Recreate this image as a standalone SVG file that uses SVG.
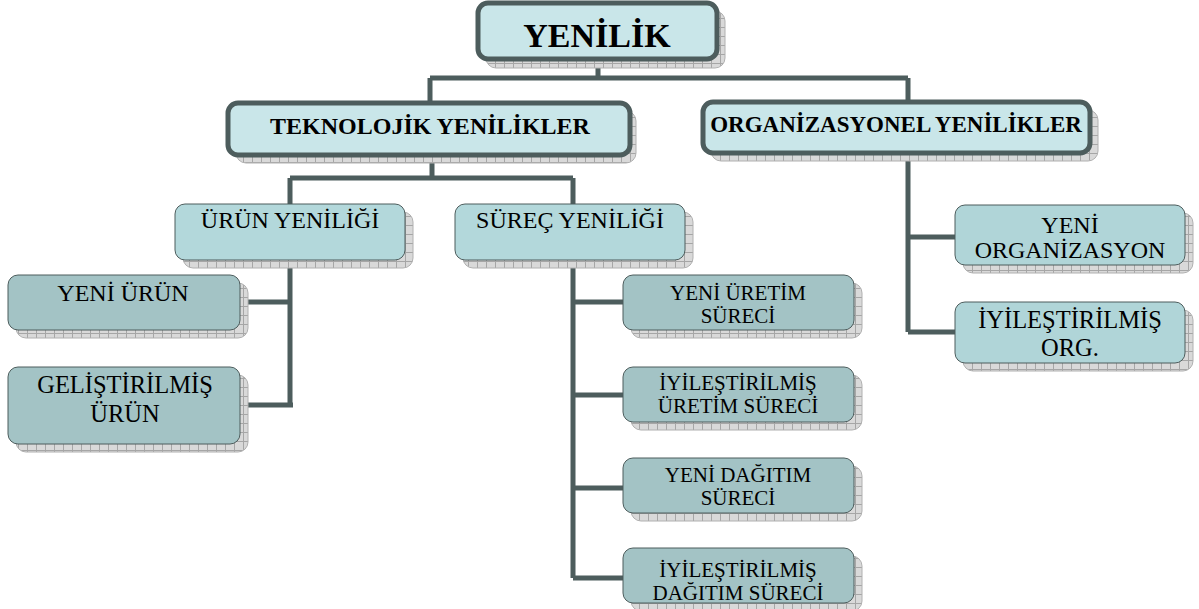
<svg xmlns="http://www.w3.org/2000/svg" width="1199" height="609" viewBox="0 0 1199 609">
<defs>
<pattern id="grid" width="9" height="9" patternUnits="userSpaceOnUse">
<rect width="9" height="9" fill="#d9d9d9"/>
<path d="M0,0.5 H9 M0.5,0 V9" stroke="#a6a6a6" stroke-width="1"/>
</pattern>
<style>
.sh{fill:url(#grid);stroke:#b0b0b0;stroke-width:1}
.big{fill:#c9e6e9;stroke:#4d5d5d;stroke-width:5}
.mid{fill:#b3d8db;stroke:#4d5d5d;stroke-width:1}
.leaf{fill:#a3c3c5;stroke:#4d5d5d;stroke-width:1}
.rleaf{fill:#b0d5d8;stroke:#4d5d5d;stroke-width:1}
.tb{font-family:"Liberation Serif","Times New Roman",serif;font-weight:bold;text-anchor:middle;fill:#000}
.t{font-family:"Liberation Serif","Times New Roman",serif;text-anchor:middle;fill:#000}
.c{fill:none;stroke:#4d5d5d;stroke-width:5}
</style>
</defs>
<g id="connectors">
<path class="c" d="M598,59 V78 M430,78 H908 M430,78 V103 M908,78 V102"/>
<path class="c" d="M432,155 V178 M290,178 H573 M290,178 V204 M573,178 V204"/>
<path class="c" d="M290,260 V405 M240,302 H290 M240,405 H293"/>
<path class="c" d="M573,260 V578 M573,302 H623 M573,395 H623 M573,488 H623 M573,578 H623"/>
<path class="c" d="M908,153 V332 M908,237 H955 M908,332 H955"/>
</g>
<g id="n-yenilik">
<rect class="sh" x="486" y="11" width="239" height="57" rx="10"/>
<rect class="big" x="478" y="3" width="239" height="56" rx="10"/>
<text class="tb" x="597" y="47" font-size="34">YENİLİK</text>
</g>
<g id="n-teknolojik">
<rect class="sh" x="236" y="111" width="400" height="52" rx="10"/>
<rect class="big" x="228" y="103" width="402" height="52" rx="10"/>
<text class="tb" x="430" y="134" font-size="24">TEKNOLOJİK YENİLİKLER</text>
</g>
<g id="n-organizasyonel">
<rect class="sh" x="711" y="110" width="387" height="51" rx="10"/>
<rect class="big" x="703" y="102" width="387" height="51" rx="10"/>
<text class="tb" x="896" y="132" font-size="23">ORGANİZASYONEL YENİLİKLER</text>
</g>
<g id="n-urun-yeniligi">
<rect class="sh" x="183" y="212" width="230" height="56" rx="10"/>
<rect class="mid" x="175" y="204" width="230" height="56" rx="10"/>
<text class="t" x="290" y="228" font-size="24">ÜRÜN YENİLİĞİ</text>
</g>
<g id="n-surec-yeniligi">
<rect class="sh" x="463" y="212" width="230" height="56" rx="10"/>
<rect class="mid" x="455" y="204" width="230" height="56" rx="10"/>
<text class="t" x="570" y="228" font-size="24">SÜREÇ YENİLİĞİ</text>
</g>
<g id="n-yeni-urun">
<rect class="sh" x="16" y="283" width="232" height="55" rx="10"/>
<rect class="leaf" x="8" y="275" width="232" height="55" rx="10"/>
<text class="t" x="123" y="301" font-size="24">YENİ ÜRÜN</text>
</g>
<g id="n-gelistirilmis-urun">
<rect class="sh" x="16" y="375" width="232" height="77" rx="10"/>
<rect class="leaf" x="8" y="367" width="232" height="77" rx="10"/>
<text class="t" x="125" y="393" font-size="24.5">GELİŞTİRİLMİŞ</text>
<text class="t" x="125" y="422" font-size="24.5">ÜRÜN</text>
</g>
<g id="n-yeni-uretim">
<rect class="sh" x="631" y="283" width="231" height="55" rx="10"/>
<rect class="leaf" x="623" y="275" width="231" height="55" rx="10"/>
<text class="t" x="738" y="300" font-size="21">YENİ ÜRETİM</text>
<text class="t" x="738" y="323" font-size="21">SÜRECİ</text>
</g>
<g id="n-iyilestirilmis-uretim">
<rect class="sh" x="631" y="375" width="231" height="55" rx="10"/>
<rect class="leaf" x="623" y="367" width="231" height="55" rx="10"/>
<text class="t" x="738" y="390" font-size="21">İYİLEŞTİRİLMİŞ</text>
<text class="t" x="738" y="413" font-size="21">ÜRETİM SÜRECİ</text>
</g>
<g id="n-yeni-dagitim">
<rect class="sh" x="631" y="466" width="231" height="55" rx="10"/>
<rect class="leaf" x="623" y="458" width="231" height="55" rx="10"/>
<text class="t" x="738" y="482" font-size="21">YENİ DAĞITIM</text>
<text class="t" x="738" y="505" font-size="21">SÜRECİ</text>
</g>
<g id="n-iyilestirilmis-dagitim">
<rect class="sh" x="631" y="556" width="231" height="55" rx="10"/>
<rect class="leaf" x="623" y="548" width="231" height="55" rx="10"/>
<text class="t" x="738" y="577" font-size="21">İYİLEŞTİRİLMİŞ</text>
<text class="t" x="738" y="600" font-size="21">DAĞITIM SÜRECİ</text>
</g>
<g id="n-yeni-organizasyon">
<rect class="sh" x="963" y="213" width="230" height="60" rx="10"/>
<rect class="rleaf" x="955" y="205" width="230" height="60" rx="10"/>
<text class="t" x="1070" y="233" font-size="24">YENİ</text>
<text class="t" x="1070" y="258" font-size="24">ORGANİZASYON</text>
</g>
<g id="n-iyilestirilmis-org">
<rect class="sh" x="963" y="310" width="230" height="61" rx="10"/>
<rect class="rleaf" x="955" y="302" width="230" height="61" rx="10"/>
<text class="t" x="1070" y="328" font-size="24.5">İYİLEŞTİRİLMİŞ</text>
<text class="t" x="1070" y="356" font-size="24.5">ORG.</text>
</g>
</svg>
